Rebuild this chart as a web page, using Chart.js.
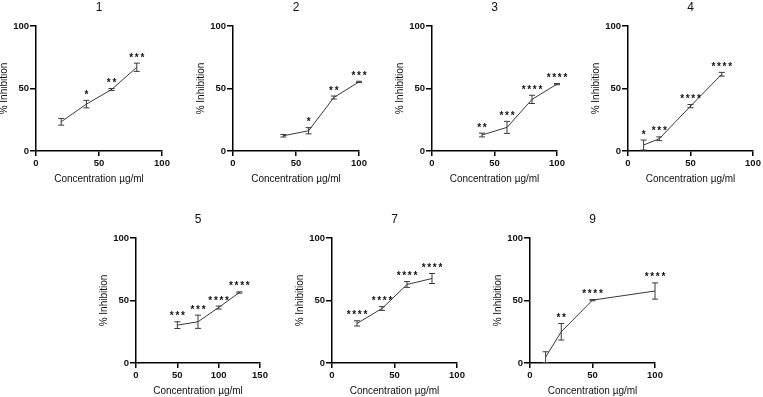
<!DOCTYPE html>
<html><head><meta charset="utf-8">
<script src="https://cdn.jsdelivr.net/npm/chart.js@4"></script>
<style>
html,body{margin:0;padding:0;background:#fff;width:763px;height:397px;overflow:hidden;position:relative}
canvas{position:absolute}
</style></head><body>
<script>
// ---- data ----
const panelTitles = ['1','2','3','4','5','7','9'];
const conc1 = [20,40,60,80];      const inh1 = [23.4,37.5,49.2,67.0]; const sem1 = [2.7,3.0,0.8,3.3]; const stars1 = ['','*','**','***'];
const conc2 = [40,60,80,100];     const inh2 = [12.2,16.2,42.8,55.3]; const sem2 = [1.0,2.5,1.2,0.5]; const stars2 = ['','*','**','***'];
const conc3 = [40,60,80,100];     const inh3 = [12.8,18.9,41.3,53.5]; const sem3 = [1.5,4.8,3.3,0.5]; const stars3 = ['**','***','****','****'];
const conc4 = [12.5,25,50,75];    const inh4 = [4.8,9.8,35.9,61.4];   const sem4 = [4.0,1.5,1.3,1.5]; const stars4 = ['*','***','****','****'];
const conc5 = [50,75,100,125];    const inh5 = [30.3,33.0,44.4,56.4]; const sem5 = [2.7,5.3,1.2,0.5]; const stars5 = ['***','***','****','****'];
const conc7 = [20,40,60,80];      const inh7 = [31.7,43.6,62.8,67.6]; const sem7 = [2.1,1.5,2.3,4.0]; const stars7 = ['****','****','****','****'];
const conc9 = [12.5,25,50,100];   const inh9 = [4.7,25.0,50.3,57.6]; const sem9 = [4.3,6.6,0.5,6.5]; const stars9 = ['','**','****','****'];
const xMaxes = [100,100,100,100,150,100,100];
const yTickStep = 50, xTickStep = 50, yMax = 100;
const xTitle = 'Concentration µg/ml';
const yTitle = '% Inhibition';

const panels = [
  {t:panelTitles[0], x:conc1, y:inh1, e:sem1, s:stars1, xmax:xMaxes[0]},
  {t:panelTitles[1], x:conc2, y:inh2, e:sem2, s:stars2, xmax:xMaxes[1]},
  {t:panelTitles[2], x:conc3, y:inh3, e:sem3, s:stars3, xmax:xMaxes[2]},
  {t:panelTitles[3], x:conc4, y:inh4, e:sem4, s:stars4, xmax:xMaxes[3]},
  {t:panelTitles[4], x:conc5, y:inh5, e:sem5, s:stars5, xmax:xMaxes[4]},
  {t:panelTitles[5], x:conc7, y:inh7, e:sem7, s:stars7, xmax:xMaxes[5]},
  {t:panelTitles[6], x:conc9, y:inh9, e:sem9, s:stars9, xmax:xMaxes[6]},
];

// ---- layout (chart area boxes in page pixels) ----
const boxes = [
  {L:36, T:26, R:162, B:151},
  {L:233, T:26, R:359, B:151},
  {L:432, T:26, R:557, B:151},
  {L:628, T:26, R:753, B:151},
  {L:136, T:238, R:260, B:363},
  {L:332, T:238, R:457, B:363},
  {L:530, T:238, R:655, B:363},
];
const YW = 40, TOPH = 26, XH = 37, RP = 14;
const FONT = "'Liberation Sans', Arial, Helvetica, sans-serif";
const INK = '#111';
const LINE = '#3a3a3a';
const STAR_PITCH = 5.6;

function errPlugin(p){
  return {
    id:'errbars',
    afterDatasetsDraw(chart){
      const {ctx, scales:{x, y}} = chart;
      ctx.save();
      ctx.strokeStyle = LINE; ctx.lineWidth = 1;
      p.x.forEach((xv,i)=>{
        const px = x.getPixelForValue(xv);
        const top = y.getPixelForValue(p.y[i] + p.e[i]);
        const bot = y.getPixelForValue(Math.max(0, p.y[i] - p.e[i]));
        ctx.beginPath();
        ctx.moveTo(px, top); ctx.lineTo(px, bot);
        ctx.moveTo(px-3, top); ctx.lineTo(px+3, top);
        ctx.moveTo(px-3, bot); ctx.lineTo(px+3, bot);
        ctx.stroke();
      });
      ctx.fillStyle = INK;
      ctx.font = 'bold 10px ' + FONT;
      ctx.textAlign = 'center'; ctx.textBaseline = 'alphabetic';
      p.x.forEach((xv,i)=>{
        const str = p.s[i];
        if(!str) return;
        const px = x.getPixelForValue(xv);
        const top = y.getPixelForValue(p.y[i] + p.e[i]);
        const n = str.length;
        for(let j=0;j<n;j++){
          ctx.fillText(str[j], px + (j - (n-1)/2) * STAR_PITCH, top - 2.5);
        }
      });
      ctx.restore();
    }
  };
}

panels.forEach((p, k)=>{
  const b = boxes[k];
  const cv = document.createElement('canvas');
  const w = (b.R - b.L) + YW + RP, h = (b.B - b.T) + TOPH + XH;
  cv.width = w; cv.height = h;
  cv.style.left = (b.L - YW) + 'px'; cv.style.top = (b.T - TOPH) + 'px';
  cv.style.width = w + 'px'; cv.style.height = h + 'px';
  document.body.appendChild(cv);
  new Chart(cv, {
    type:'line',
    data:{datasets:[{
      data: p.x.map((xv,i)=>({x:xv, y:p.y[i]})),
      borderColor: LINE, borderWidth: 1, pointRadius: 0, tension: 0, fill:false
    }]},
    options:{
      responsive:false, animation:false, devicePixelRatio:1,
      layout:{padding:{left:0, right:RP, top:0, bottom:0}},
      plugins:{
        legend:{display:false}, tooltip:{enabled:false},
        title:{display:true, text:p.t, fullSize:false, color:INK,
          font:{family:FONT, size:12, weight:'normal', lineHeight:1.2}, padding:{top:0, bottom:TOPH-14.4}}
      },
      scales:{
        x:{type:'linear', min:0, max:p.xmax,
          afterFit(s){ s.height = XH; },
          ticks:{stepSize:xTickStep, color:INK, padding:2, maxRotation:0, font:{family:FONT, size:9.5, weight:'bold'}},
          grid:{drawOnChartArea:false, drawTicks:true, tickLength:5, color:'#000', lineWidth:1.5},
          border:{display:true, color:'#000', width:1.5},
          title:{display:true, text:xTitle, color:INK, font:{family:FONT, size:10, lineHeight:1.2}, padding:{top:0,bottom:3}}
        },
        y:{type:'linear', min:0, max:yMax,
          afterFit(s){ s.width = YW; },
          ticks:{stepSize:yTickStep, color:INK, padding:1, font:{family:FONT, size:9.5, weight:'bold'}},
          grid:{drawOnChartArea:false, drawTicks:true, tickLength:6, color:'#000', lineWidth:1.5},
          border:{display:true, color:'#000', width:1.5},
          title:{display:true, text:yTitle, color:INK, font:{family:FONT, size:10, lineHeight:1.2}, padding:{top:2,bottom:0}}
        }
      }
    },
    plugins:[errPlugin(p)]
  });
});
</script>
</body></html>
